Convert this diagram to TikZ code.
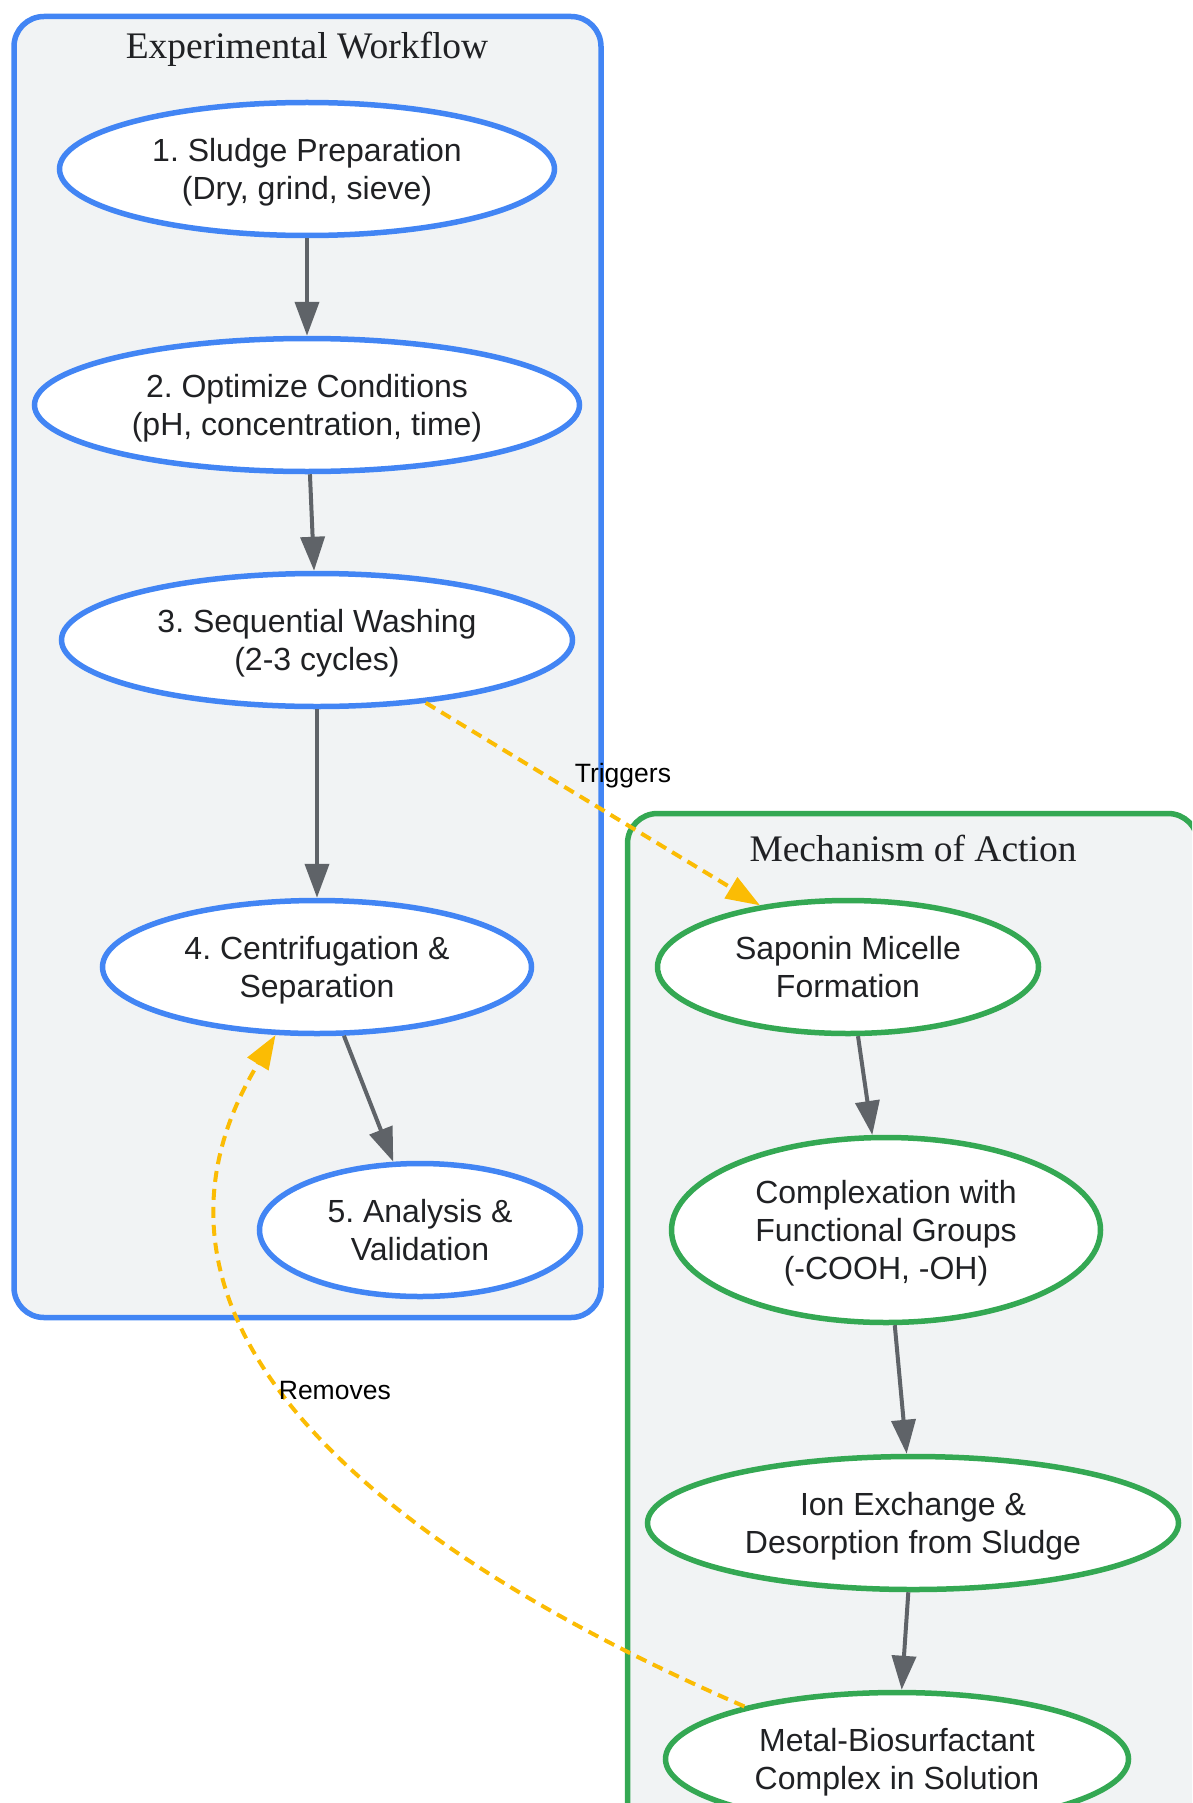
\documentclass[tikz,border=0pt]{standalone}
\usepackage{fontspec}
\setmainfont{Liberation Sans}
\newfontfamily\titlefont{Liberation Serif}
\usetikzlibrary{shapes.geometric,arrows.meta}
\definecolor{gblue}{HTML}{4285F4}
\definecolor{ggreen}{HTML}{34A853}
\definecolor{gyellow}{HTML}{FBBC04}
\definecolor{ggray}{HTML}{5F6368}
\definecolor{boxbg}{HTML}{F1F3F4}
\definecolor{txt}{HTML}{202124}
\frenchspacing
\begin{document}
\begin{tikzpicture}[x=1pt,y=-1pt,
  groupbox/.style={line width=5.5pt, fill=boxbg, rounded corners=30pt},
  grouptitle/.style={font=\titlefont\fontsize{37.5}{42}\selectfont, text=txt, inner sep=0pt},
  stepnode/.style={ellipse, line width=5.5pt, fill=white, inner sep=0pt, align=center,
    text=txt, font=\fontsize{32}{38}\selectfont, minimum height=133pt, text depth=-0.5pt},
  bluenode/.style={stepnode, draw=gblue},
  greennode/.style={stepnode, draw=ggreen},
  flow/.style={line width=4pt, draw=ggray, -{Triangle[length=34pt,width=24pt]}},
  link/.style={line width=4pt, draw=gyellow, dash pattern=on 11pt off 7pt,
    -{Triangle[length=34pt,width=24pt]}},
  linklabel/.style={font=\fontsize{26.5}{32}\selectfont, text=black, inner sep=0pt}
]
\useasboundingbox (0,0) rectangle (1192,1803);
\clip (0,0) rectangle (1192,1803);

% group boxes
\draw[groupbox, draw=gblue] (14,16.5) rectangle (601,1317.5);
\draw[groupbox, draw=ggreen] (627.5,813.5) rectangle (1198,1870);
\node[grouptitle] (t1) at (307,49.5) {Experimental Workflow};
\node[grouptitle] (t2) at (913,848.5) {Mechanism of Action};

% workflow nodes
\node[bluenode, minimum width=495pt] (n1) at (307,169) {1. Sludge Preparation\\(Dry, grind, sieve)};
\node[bluenode, minimum width=545pt] (n2) at (307,405) {2. Optimize Conditions\\(pH, concentration, time)};
\node[bluenode, minimum width=511pt] (n3) at (317,640) {3. Sequential Washing\\(2-3 cycles)};
\node[bluenode, minimum width=429pt] (n4) at (317,967) {4. Centrifugation \&\\Separation};
\node[bluenode, minimum width=321pt] (n5) at (420,1230) {5. Analysis \&\\Validation};

% mechanism nodes
\node[greennode, minimum width=381pt] (m1) at (848,967) {Saponin Micelle\\Formation};
\node[greennode, minimum width=429pt, minimum height=185pt] (m2) at (886,1230) {Complexation with\\Functional Groups\\(-COOH, -OH)};
\node[greennode, minimum width=531pt] (m3) at (913,1523) {Ion Exchange \&\\Desorption from Sludge};
\node[greennode, minimum width=463pt] (m4) at (897,1759) {Metal-Biosurfactant\\Complex in Solution};

% flow edges
\draw[flow] (n1) -- (n2);
\draw[flow] (n2) -- (n3);
\draw[flow] (n3) -- (n4);
\draw[flow] (n4) -- (n5);
\draw[flow] (m1) -- (m2);
\draw[flow] (m2) -- (m3);
\draw[flow] (m3) -- (m4);

% cross links
\draw[link] (n3.330) -- (m1.145)
  node[linklabel, pos=0.44, anchor=south west, yshift=2pt] (lt) {Triggers};
\draw[link] (m4.161) .. controls (327,1525) and (114,1300) .. (n4)
  node[linklabel, pos=0.5, anchor=west, xshift=-16pt, yshift=12pt] (lr) {Removes};
\end{tikzpicture}
\end{document}
